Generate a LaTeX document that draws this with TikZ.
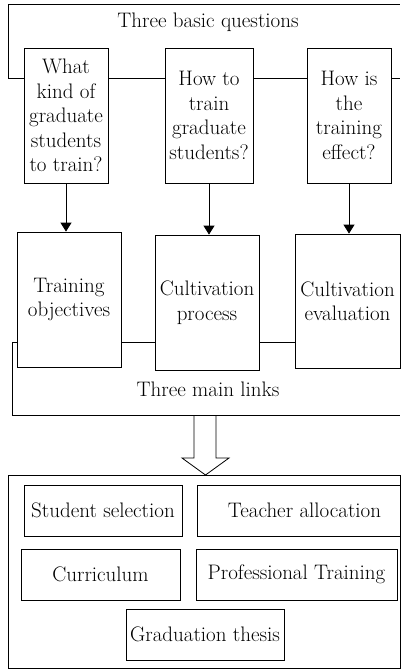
\documentclass[tikz,border=0pt]{standalone}
\usepackage{fontspec}
\usetikzlibrary{arrows.meta}

\tikzset{
  qbox/.style={draw,align=center,inner sep=1pt,minimum height=135pt},
  itembox/.style={draw,align=center,inner sep=1pt,minimum height=51pt},
  frametext/.style={inner sep=0pt},
  down/.style={-{Triangle[length=9pt,width=11pt]}}
}

\begin{document}
\begin{tikzpicture}[x=1pt,y=-1pt,line width=0.8pt,font=\fontsize{21}{24.5}\selectfont]
  \useasboundingbox (0,0) rectangle (400,669);
  \coordinate (qline) at (0,78);
  \coordinate (lline) at (0,342);

  % three basic questions
  \node[qbox,minimum width=84pt] (q1) at (66,115.5) {What\\kind of\\graduate\\students\\to train?};
  \node[qbox,minimum width=88pt] (q2) at (209,115.5) {How to\\train\\graduate\\students?};
  \node[qbox,minimum width=84pt] (q3) at (349,115.5) {How is\\the\\training\\effect?};
  \node[frametext] (qtitle) at (208,22) {Three basic questions};
  \draw (q1.west |- qline) -- (8,78) -- (8,4) -- (400,4);
  \draw (q1.east |- qline) -- (q2.west |- qline);
  \draw (q2.east |- qline) -- (q3.west |- qline);
  \draw (q3.east |- qline) -- (400,78);

  % three main links
  \node[qbox,minimum width=104pt] (l1) at (69,299.5) {Training\\objectives};
  \node[qbox,minimum width=104pt] (l2) at (207,302.5) {Cultivation\\process};
  \node[qbox,minimum width=105pt,minimum height=134pt] (l3) at (347.5,301) {Cultivation\\evaluation};
  \node[frametext] (ltitle) at (208,389) {Three main links};
  \draw[down] (q1.south) -- (q1.south |- l1.north);
  \draw[down] (q2.south) -- (q2.south |- l2.north);
  \draw[down] (q3.south) -- (q3.south |- l3.north);
  \draw (l1.west |- lline) -- (12,342) -- (12,415) -- (400,415);
  \draw (l1.east |- lline) -- (l2.west |- lline);
  \draw (l2.east |- lline) -- (l3.west |- lline);

  % hollow arrow
  \draw (194,415) -- (194,458) -- (182,458) -- (205.5,475) -- (229,458) -- (216,458) -- (216,415);

  % contents
  \draw (8,475) rectangle (400,668);
  \node[itembox,minimum width=158pt] (sel) at (103,510.5) {Student selection};
  \node[itembox,minimum width=203pt] (teach) at (298.5,510.5) {\hspace{12pt}Teacher allocation};
  \node[itembox,minimum width=159pt] (curr) at (100.5,574.5) {Curriculum};
  \node[itembox,minimum width=201pt] (prof) at (296.5,574.5) {Professional Training};
  \node[itembox,minimum width=158pt] (thesis) at (205,634.5) {Graduation thesis};
\end{tikzpicture}
\end{document}
